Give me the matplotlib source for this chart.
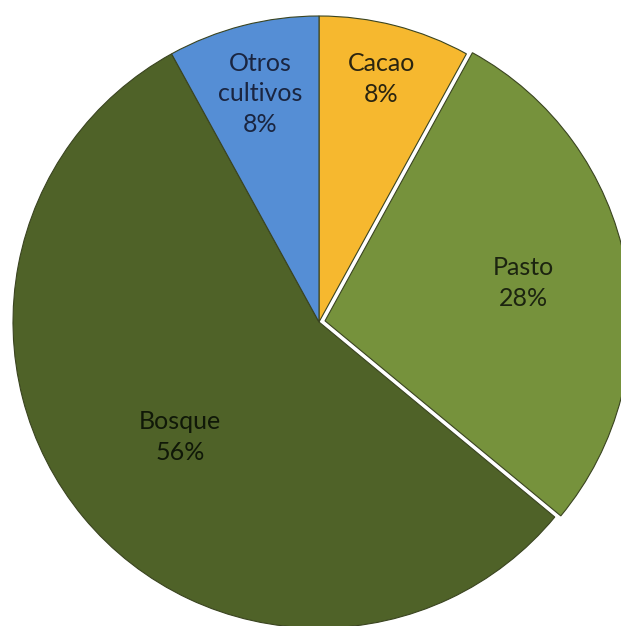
import matplotlib
matplotlib.use("Agg")
import matplotlib.pyplot as plt
import numpy as np

labels = ["Cacao", "Pasto", "Bosque", "Otros\ncultivos"]
values = [8, 28, 56, 8]
colors = ["#F6B82F", "#76923C", "#4F6228", "#558ED5"]
explode = [0, 0.02, 0, 0]
label_r = [0.82, 0.66, 0.59, 0.77]
text_colors = ["#2a2410", "#1c2410", "#101808", "#1a2540"]

fig = plt.figure(figsize=(6.21, 6.26), dpi=100)
ax = fig.add_axes([0, 0, 1, 1])

wedges, _ = ax.pie(values, colors=colors, startangle=90, counterclock=False,
                   explode=explode, radius=1,
                   wedgeprops=dict(edgecolor="#3a4420", linewidth=0.8))

for w, lab, v, r, tc in zip(wedges, labels, values, label_r, text_colors):
    ang = np.deg2rad((w.theta1 + w.theta2) / 2)
    cx, cy = w.center
    ax.text(cx + r * np.cos(ang), cy + r * np.sin(ang), f"{lab}\n{v}%",
            ha="center", va="center", fontsize=18, family="Lato",
            color=tc, linespacing=1.4)

# map pixels: centre at (319, 322), radius 306 px
s = 306.0
ax.set_aspect("auto")
ax.set_xlim(-319 / s, (621 - 319) / s)
ax.set_ylim(-(626 - 322) / s, 322 / s)
ax.axis("off")

fig.savefig("out.png", dpi=100)
